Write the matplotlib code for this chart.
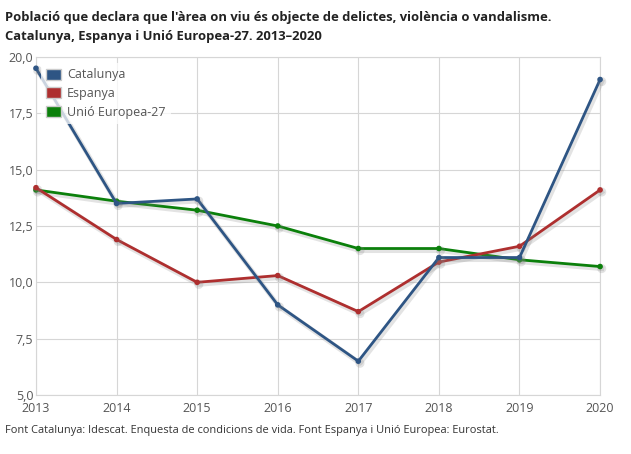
import matplotlib
matplotlib.use("Agg")
import matplotlib.pyplot as plt
import matplotlib.patheffects as pe
from matplotlib.patches import Patch

anys = [2013, 2014, 2015, 2016, 2017, 2018, 2019, 2020]
catalunya = [19.5, 13.5, 13.7, 9.0, 6.5, 11.1, 11.1, 19.0]
espanya = [14.2, 11.9, 10.0, 10.3, 8.7, 10.9, 11.6, 14.1]
ue27 = [14.1, 13.6, 13.2, 12.5, 11.5, 11.5, 11.0, 10.7]

series = ["Catalunya", "Espanya", "Unió Europea-27"]
colors = ["#2e5584", "#ae2f2f", "#0b800b"]
yticks = [5.0, 7.5, 10.0, 12.5, 15.0, 17.5, 20.0]

plt.rcParams['font.family'] = ['Open Sans', 'DejaVu Sans']

fig = plt.figure(figsize=(6.31, 4.54), dpi=100)
ax = fig.add_axes([0.057, 0.130, 0.894, 0.7445])

shadow = [pe.SimpleLineShadow(offset=(1.2, -1.5), shadow_color="gray", alpha=0.22, linewidth=3.5),
          pe.Normal()]
for vals, c in zip([ue27, espanya, catalunya], [colors[2], colors[1], colors[0]]):
    ax.plot(anys, vals, color=c, lw=2, marker="o", ms=3, path_effects=shadow,
            zorder=3, clip_on=False)

ax.set_xlim(2013, 2020)
ax.set_ylim(5, 20)
ax.set_xticks(anys)
ax.set_yticks(yticks)
ax.set_yticklabels([f"{v:.1f}".replace(".", ",") for v in yticks])
ax.grid(True, color="#d6d6d6", lw=0.8)
ax.set_axisbelow(True)
for s in ax.spines.values():
    s.set_color("#d6d6d6")
    s.set_linewidth(0.8)
ax.tick_params(length=0, labelsize=9, colors="#555555", pad=2)
ax.tick_params(axis="x", pad=5)

handles = [Patch(facecolor=c, edgecolor="#cccccc", lw=1) for c in colors]
leg = ax.legend(handles, series, loc="upper left", bbox_to_anchor=(0.003, 0.992),
                frameon=True, fontsize=9, handlelength=1.15, handleheight=0.95,
                handletextpad=0.5, labelspacing=0.45, borderaxespad=0.3)
leg.get_frame().set_facecolor("white")
leg.get_frame().set_alpha(0.75)
leg.get_frame().set_edgecolor("none")
for t in leg.get_texts():
    t.set_color("#555555")

fig.text(0.008, 0.975, "Població que declara que l'àrea on viu és objecte de delictes, violència o vandalisme.\n"
         "Catalunya, Espanya i Unió Europea-27. 2013–2020",
         ha="left", va="top", fontsize=9.4, fontweight="bold", color="#222222", linespacing=1.55)
fig.text(0.008, 0.040, "Font Catalunya: Idescat. Enquesta de condicions de vida. Font Espanya i Unió Europea: Eurostat.",
         ha="left", va="bottom", fontsize=7.9, color="#333333")

fig.savefig("out.png", dpi=100)
